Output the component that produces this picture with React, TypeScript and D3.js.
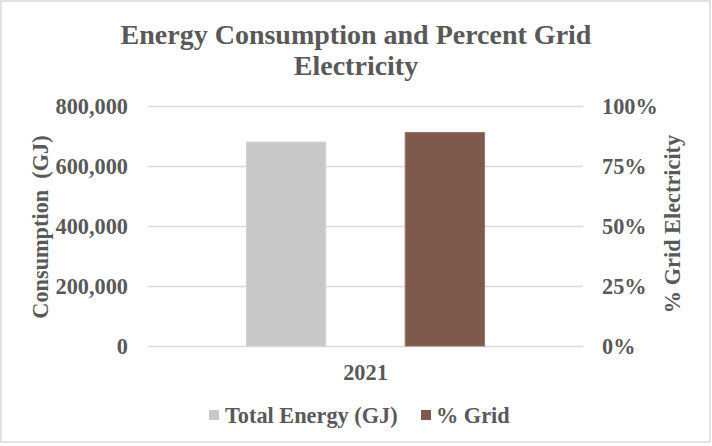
import React, { useEffect, useRef } from "react";
import * as d3 from "d3";

const categories = ["2021"];
const seriesNames = ["Total Energy (GJ)", "% Grid"];
const totalEnergy = [680000];
const percentGrid = [0.89];
const leftTicks = [0, 200000, 400000, 600000, 800000];
const rightTicks = [0, 0.25, 0.5, 0.75, 1];

const colors = ["#C9C8C7", "#7F5A4C"];
const textColor = "#595959";
const font = "'Liberation Serif', 'Times New Roman', serif";
const labelSize = "22.3px";

const width = 712;
const height = 446;
const margin = { top: 106, right: 129, bottom: 100, left: 148 };

const App = () => {
  const ref = useRef<SVGSVGElement>(null);

  useEffect(() => {
    const svg = d3.select(ref.current);
    svg.selectAll("*").remove();

    const innerW = width - margin.left - margin.right;
    const innerH = height - margin.top - margin.bottom;

    svg
      .append("rect")
      .attr("x", 1)
      .attr("y", 1)
      .attr("width", width - 3)
      .attr("height", height - 5)
      .attr("fill", "#fff")
      .attr("stroke", "#D9D9D9")
      .attr("stroke-width", 1.5);

    // title
    const title = svg
      .append("text")
      .attr("text-anchor", "middle")
      .attr("fill", textColor)
      .style("font-family", font)
      .style("font-weight", "bold")
      .style("font-size", "28px");
    title.append("tspan").attr("x", width / 2).attr("y", 44).text("Energy Consumption and Percent Grid");
    title.append("tspan").attr("x", width / 2).attr("y", 75).text("Electricity");

    const g = svg.append("g").attr("transform", `translate(${margin.left},${margin.top})`);

    const yLeft = d3.scaleLinear().domain([0, 800000]).range([innerH, 0]);
    const yRight = d3.scaleLinear().domain([0, 1]).range([innerH, 0]);
    const x0 = d3.scaleBand<string>().domain(categories).range([0, innerW]);
    const x1 = d3
      .scaleBand<string>()
      .domain(seriesNames)
      .range([0, x0.bandwidth()])
      .paddingInner(0.5)
      .paddingOuter(0.62);

    // gridlines
    g.selectAll("line.grid")
      .data(leftTicks)
      .enter()
      .append("line")
      .attr("class", "grid")
      .attr("x1", 0)
      .attr("x2", innerW)
      .attr("y1", (d) => Math.round(yLeft(d)) + 0.5)
      .attr("y2", (d) => Math.round(yLeft(d)) + 0.5)
      .attr("stroke", "#D9D9D9")
      .attr("stroke-width", 1.3);

    const leftAxis = d3
      .axisLeft(yLeft)
      .tickValues(leftTicks)
      .tickSize(0)
      .tickPadding(20)
      .tickFormat((d) => d3.format(",")(d as number));
    const la = g.append("g").call(leftAxis);
    la.select(".domain").remove();
    la.selectAll("text")
      .attr("fill", textColor)
      .style("font-family", font)
      .style("font-weight", "bold")
      .style("font-size", labelSize);

    const rightAxis = d3
      .axisRight(yRight)
      .tickValues(rightTicks)
      .tickSize(0)
      .tickPadding(19)
      .tickFormat((d) => d3.format(".0%")(d as number));
    const ra = g.append("g").attr("transform", `translate(${innerW},0)`).call(rightAxis);
    ra.select(".domain").remove();
    ra.selectAll("text")
      .attr("fill", textColor)
      .style("font-family", font)
      .style("font-weight", "bold")
      .style("font-size", labelSize);

    // bars
    categories.forEach((cat, i) => {
      const cg = g.append("g").attr("transform", `translate(${x0(cat)},0)`);
      cg.append("rect")
        .attr("x", x1(seriesNames[0])!)
        .attr("y", yLeft(totalEnergy[i]))
        .attr("width", x1.bandwidth())
        .attr("height", innerH - yLeft(totalEnergy[i]))
        .attr("fill", colors[0])
        .attr("stroke", "#D6D5D4")
        .attr("stroke-width", 1);
      cg.append("rect")
        .attr("x", x1(seriesNames[1])!)
        .attr("y", yRight(percentGrid[i]))
        .attr("width", x1.bandwidth())
        .attr("height", innerH - yRight(percentGrid[i]))
        .attr("fill", colors[1])
        .attr("stroke", "#987468")
        .attr("stroke-width", 1);
    });

    // category axis
    g.selectAll("text.cat")
      .data(categories)
      .enter()
      .append("text")
      .attr("class", "cat")
      .attr("x", (d) => x0(d)! + x0.bandwidth() / 2)
      .attr("y", innerH + 34)
      .attr("text-anchor", "middle")
      .attr("fill", textColor)
      .style("font-family", font)
      .style("font-weight", "bold")
      .style("font-size", labelSize)
      .text((d) => d);

    // axis titles
    svg
      .append("text")
      .attr("transform", `translate(48, ${(margin.top + height - margin.bottom) / 2 + 1}) rotate(-90)`)
      .attr("text-anchor", "middle")
      .attr("fill", textColor)
      .style("font-family", font)
      .style("font-weight", "bold")
      .style("font-size", labelSize)
      .style("white-space", "pre")
      .text("Consumption  (GJ)");

    svg
      .append("text")
      .attr("transform", `translate(680, ${(margin.top + height - margin.bottom) / 2 - 2}) rotate(-90)`)
      .attr("text-anchor", "middle")
      .attr("fill", textColor)
      .style("font-family", font)
      .style("font-weight", "bold")
      .style("font-size", labelSize)
      .text("% Grid Electricity");

    // legend
    const legendItems = [
      { name: seriesNames[0], color: colors[0], x: 209, tx: 225 },
      { name: seriesNames[1], color: colors[1], x: 421, tx: 436 },
    ];
    const legend = svg.append("g").attr("transform", "translate(0, 415)");
    legendItems.forEach((item) => {
      legend
        .append("rect")
        .attr("x", item.x)
        .attr("y", -5)
        .attr("width", 10)
        .attr("height", 10)
        .attr("fill", item.color);
      legend
        .append("text")
        .attr("x", item.tx)
        .attr("y", 7.5)
        .attr("fill", textColor)
        .style("font-family", font)
        .style("font-weight", "bold")
        .style("font-size", labelSize)
        .text(item.name);
    });
  }, []);

  return (
    <svg
      ref={ref}
      width={width}
      height={height}
      style={{ position: "absolute", left: 0, top: 0, display: "block" }}
    />
  );
};

export default App;
